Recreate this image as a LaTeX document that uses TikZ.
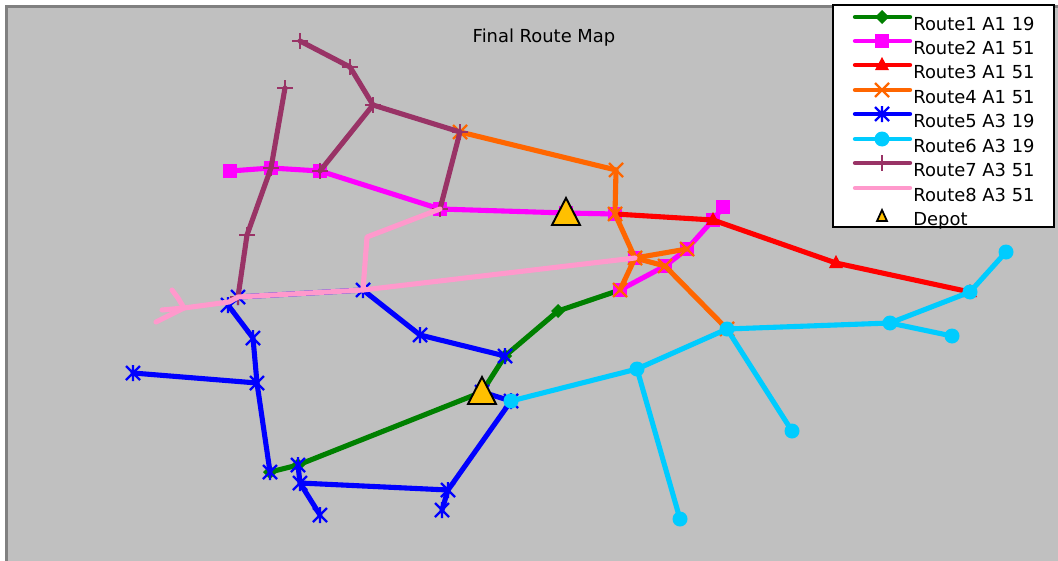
\documentclass[tikz,border=0pt]{standalone}
\usepackage{fontspec}
\setmainfont{DejaVu Sans}
\definecolor{rgreen}{HTML}{008000}
\definecolor{rmag}{HTML}{FF00FF}
\definecolor{rred}{HTML}{FF0000}
\definecolor{rorange}{HTML}{FF6600}
\definecolor{rblue}{HTML}{0000FF}
\definecolor{rcyan}{HTML}{00CCFF}
\definecolor{rmaroon}{HTML}{993366}
\definecolor{rpink}{HTML}{FF99CC}
\definecolor{depotfill}{HTML}{FFC000}
\definecolor{axbg}{HTML}{C0C0C0}
\definecolor{axedge}{HTML}{808080}
\tikzset{
  route/.style={line width=2.9pt, line join=round, line cap=round},
  legline/.style={line width=2.5pt, line cap=round},
  mdia/.pic={\fill[rgreen] (0,-7)--(7,0)--(0,7)--(-7,0)--cycle;},
  msq/.pic={\fill[rmag] (-7,-7) rectangle (7,7);},
  mtri/.pic={\fill[rred] (0,-8)--(7,5)--(-7,5)--cycle;},
  mx/.pic={\draw[rorange,line width=1.3pt] (-7,-7)--(7,7) (-7,7)--(7,-7);},
  mast/.pic={\draw[rblue,line width=1.3pt] (-7,-7)--(7,7) (-7,7)--(7,-7) (0,-8)--(0,8);},
  mcirc/.pic={\fill[rcyan] (0,0) circle (7.5);},
  mplus/.pic={\draw[rmaroon,line width=1.3pt] (-8,0)--(8,0) (0,-8)--(0,8);},
  depot/.pic={\filldraw[fill=depotfill,draw=black,line width=1.1pt,line join=miter] (0,-15)--(14,12)--(-14,12)--cycle;},
  smalldepot/.pic={\filldraw[fill=depotfill,draw=black,line width=1pt,line join=miter] (0,-6)--(5,5)--(-5,5)--cycle;},
  legtext/.style={anchor=base west, inner sep=0pt, font=\fontsize{10.2}{12}\selectfont},
}
\begin{document}
\begin{tikzpicture}[x=0.02cm,y=-0.02cm]
\useasboundingbox (0,0) rectangle (1058,561);
\fill[white] (0,0) rectangle (1058,561);
\fill[axbg] (5,5) rectangle (1058,561);
\draw[axedge,line width=1.7pt] (6.5,561) -- (6.5,6.5) -- (1058,6.5);

% points
\coordinate (g1) at (270,472); \coordinate (g2) at (298,465);
\coordinate (dB) at (482,392); \coordinate (g3) at (505,356);
\coordinate (g4) at (558,311); \coordinate (g5) at (620,290);
\coordinate (m1) at (230,171); \coordinate (m2) at (271,168);
\coordinate (m3) at (320,171); \coordinate (m4) at (440,209);
\coordinate (dA) at (566,213); \coordinate (m5) at (615,214);
\coordinate (m7) at (665,266); \coordinate (m8) at (687,249);
\coordinate (m9) at (713,220); \coordinate (m10) at (723,207);
\coordinate (m11) at (635,258);
\coordinate (r1) at (836,263); \coordinate (r2) at (970,292);
\coordinate (o1) at (460,132); \coordinate (o2) at (616,170);
\coordinate (o3) at (727,329);
\coordinate (b1) at (133,373); \coordinate (b2) at (257,383);
\coordinate (b3) at (253,338); \coordinate (b4) at (228,305);
\coordinate (b5) at (238,297); \coordinate (b6) at (363,290);
\coordinate (b7) at (420,335); \coordinate (b8) at (448,490);
\coordinate (b9) at (442,510); \coordinate (b10) at (300,483);
\coordinate (b11) at (320,515);
\coordinate (c1) at (511,401); \coordinate (c2) at (637,369);
\coordinate (c3) at (680,519); \coordinate (c5) at (792,431);
\coordinate (c6) at (890,323); \coordinate (c7) at (952,336);
\coordinate (c8) at (1006,252);
\coordinate (p1) at (300,41); \coordinate (p2) at (350,67);
\coordinate (p3) at (373,105); \coordinate (p4) at (285,88);
\coordinate (p5) at (247,235);
\coordinate (k1) at (367,237); \coordinate (k2) at (229,302);
\coordinate (k3) at (184,308); \coordinate (k4) at (156,322);
\coordinate (k5) at (172,290); \coordinate (k6) at (162,310);
\coordinate (k7) at (178,298);

% Route1
\draw[route,rgreen] (g1) -- (g2) -- (dB) -- (g3) -- (g4) -- (g5);
\foreach \p in {g1,g2,dB,g3,g4,g5} \pic at (\p) {mdia};
% Route2
\draw[route,rmag] (m1) -- (m2) -- (m3) -- (m4) -- (dA) -- (m5);
\draw[route,rmag] (g5) -- (m7) -- (m8) -- (m9) -- (m10);
\foreach \p in {m1,m2,m3,m4,dA,m5,g5,m7,m8,m9,m10,m11} \pic at (\p) {msq};
% Route3
\draw[route,rred] (m5) -- (m9) -- (r1) -- (r2);
\foreach \p in {m9,r1,r2} \pic at (\p) {mtri};
% Route4
\draw[route,rorange] (o1) -- (o2) -- (m5) -- (m11) -- (g5);
\draw[route,rorange] (m11) -- (m8);
\draw[route,rorange] (m11) -- (m7) -- (o3);
\foreach \p in {o1,o2,m5,m11,g5,m8,m7,o3} \pic at (\p) {mx};
% Route5
\draw[route,rblue] (b1) -- (b2);
\draw[route,rblue] (b5) -- (b4) -- (b3) -- (b2) -- (g1);
\draw[route,rblue] (b5) -- (b6) -- (b7) -- (g3);
\draw[route,rblue] (dB) -- (c1) -- (b8) -- (b10) -- (b11);
\draw[route,rblue] (g2) -- (b10);
\draw[route,rblue] (b8) -- (b9);
\foreach \p in {b1,b2,b3,b4,b5,b6,b7,g3,dB,c1,b8,b9,b10,b11,g2,g1} \pic at (\p) {mast};
% Route6
\draw[route,rcyan] (c1) -- (c2) -- (o3) -- (c6) -- (r2) -- (c8);
\draw[route,rcyan] (c2) -- (c3);
\draw[route,rcyan] (o3) -- (c5);
\draw[route,rcyan] (c6) -- (c7);
\foreach \p in {c1,c2,c3,o3,c5,c6,c7,r2,c8} \pic at (\p) {mcirc};
% Route7
\draw[route,rmaroon] (p1) -- (p2) -- (p3) -- (o1) -- (m4);
\draw[route,rmaroon] (p3) -- (m3);
\draw[route,rmaroon] (p4) -- (m2) -- (p5) -- (b5);
\foreach \p in {p1,p2,p3,o1,m4,m3,p4,m2,p5,b5} \pic at (\p) {mplus};
% Route8
\draw[route,rpink] (m4) -- (k1) -- (b6) -- (b5) -- (k2) -- (k3) -- (k4);
\draw[route,rpink] (k3) -- (k7) -- (k5);
\draw[route,rpink] (k3) -- (k6);
\draw[route,rpink] (b6) -- (m11);
% Depots
\pic at (dA) {depot};
\pic at (dB) {depot};

% Title
\node[legtext, anchor=base] (title) at (544,42) {Final Route Map};

% Legend
\draw[fill=white,draw=black,line width=0.6pt] (833,5) rectangle (1054,227);
\coordinate (la1) at (855,17);  \coordinate (lb1) at (910,17);  \coordinate (lm1) at (882,17);
\coordinate (la2) at (855,41);  \coordinate (lb2) at (910,41);  \coordinate (lm2) at (882,41);
\coordinate (la3) at (855,65);  \coordinate (lb3) at (910,65);  \coordinate (lm3) at (882,65);
\coordinate (la4) at (855,90);  \coordinate (lb4) at (910,90);  \coordinate (lm4) at (882,90);
\coordinate (la5) at (855,114); \coordinate (lb5) at (910,114); \coordinate (lm5) at (882,114);
\coordinate (la6) at (855,139); \coordinate (lb6) at (910,139); \coordinate (lm6) at (882,139);
\coordinate (la7) at (855,163); \coordinate (lb7) at (910,163); \coordinate (lm7) at (882,163);
\coordinate (la8) at (855,188); \coordinate (lb8) at (910,188); \coordinate (lm8) at (882,188);
\coordinate (lm9) at (882,216);
\draw[legline,rgreen] (la1) -- (lb1); \pic at (lm1) {mdia};
\draw[legline,rmag] (la2) -- (lb2); \pic at (lm2) {msq};
\draw[legline,rred] (la3) -- (lb3); \pic at (lm3) {mtri};
\draw[legline,rorange] (la4) -- (lb4); \pic at (lm4) {mx};
\draw[legline,rblue] (la5) -- (lb5); \pic at (lm5) {mast};
\draw[legline,rcyan] (la6) -- (lb6); \pic at (lm6) {mcirc};
\draw[legline,rmaroon] (la7) -- (lb7); \pic at (lm7) {mplus};
\draw[legline,rpink] (la8) -- (lb8);
\pic at (lm9) {smalldepot};
\node[legtext] (t1) at (913,30.5) {Route1 A1 19};
\node[legtext] (t2) at (913,54.5) {Route2 A1 51};
\node[legtext] (t3) at (913,78.5) {Route3 A1 51};
\node[legtext] (t4) at (913,103.5) {Route4 A1 51};
\node[legtext] (t5) at (913,127.5) {Route5 A3 19};
\node[legtext] (t6) at (913,152) {Route6 A3 19};
\node[legtext] (t7) at (913,176) {Route7 A3 51};
\node[legtext] (t8) at (913,201) {Route8 A3 51};
\node[legtext] (t9) at (913,225.5) {Depot};
\end{tikzpicture}
\end{document}
